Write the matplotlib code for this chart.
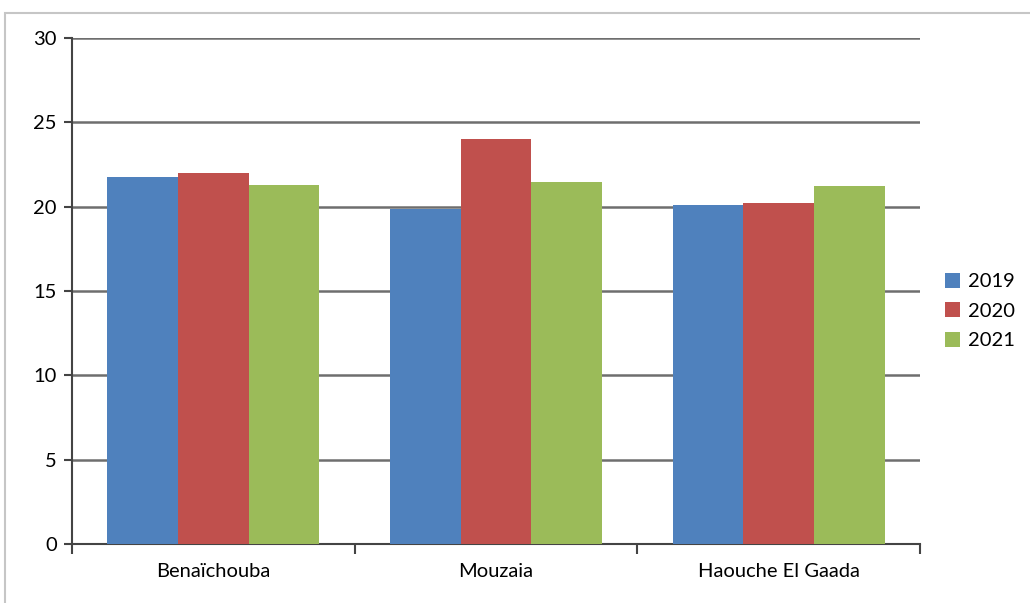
import matplotlib.pyplot as plt
import numpy as np
from matplotlib.patches import Rectangle

plt.rcParams['font.family'] = ['Lato', 'DejaVu Sans']

sites = ['Benaïchouba', 'Mouzaia', 'Haouche El Gaada']
years = ['2019', '2020', '2021']
v2019 = [21.75, 19.85, 20.1]
v2020 = [22.0, 24.0, 20.2]
v2021 = [21.3, 21.45, 21.25]
colors = ['#4F81BD', '#C0504D', '#9BBB59']

fig = plt.figure(figsize=(10.30, 6.03), dpi=100)
# light frame round the whole chart area
fig.patches.append(Rectangle((5 / 1030, -0.01), 1.02, (603 - 13) / 603 + 0.01,
                             transform=fig.transFigure, fill=False,
                             edgecolor='#c6c6c6', linewidth=1.5))

ax = fig.add_axes([72 / 1030, 59 / 603, 848 / 1030, 506 / 603])

x = np.arange(len(sites))
w = 0.25
for i, (vals, yr) in enumerate(zip([v2019, v2020, v2021], years)):
    ax.bar(x + (i - 1) * w, vals, width=w, color=colors[i], label=yr,
           zorder=3, edgecolor='none')

ax.set_xlim(-0.5, 2.5)
ax.set_ylim(0, 30)
ax.set_yticks(range(0, 31, 5))
ax.yaxis.grid(True, color='#6e6e6e', linewidth=1.8, zorder=0)
ax.set_axisbelow(True)

for s in ['top', 'right']:
    ax.spines[s].set_visible(False)
for s in ['left', 'bottom']:
    ax.spines[s].set_color('#444444')
    ax.spines[s].set_linewidth(1.5)

ax.set_xticks(x)
ax.set_xticklabels(sites, fontsize=14.5)
ax.tick_params(axis='x', length=0, pad=14)
ax.set_xticks([-0.5, 0.5, 1.5, 2.5], minor=True)
ax.tick_params(axis='x', which='minor', length=7, width=1.5, color='#444444')
ax.tick_params(axis='y', length=6, width=1.5, color='#444444', labelsize=14.5, pad=5)

leg = ax.legend(loc='center left', bbox_to_anchor=(927 / 1030, 292 / 603),
                bbox_transform=fig.transFigure, frameon=False, fontsize=14.5,
                handlelength=0.75, handleheight=0.75, handletextpad=0.4,
                labelspacing=0.6)

fig.savefig('out.png', dpi=100)
